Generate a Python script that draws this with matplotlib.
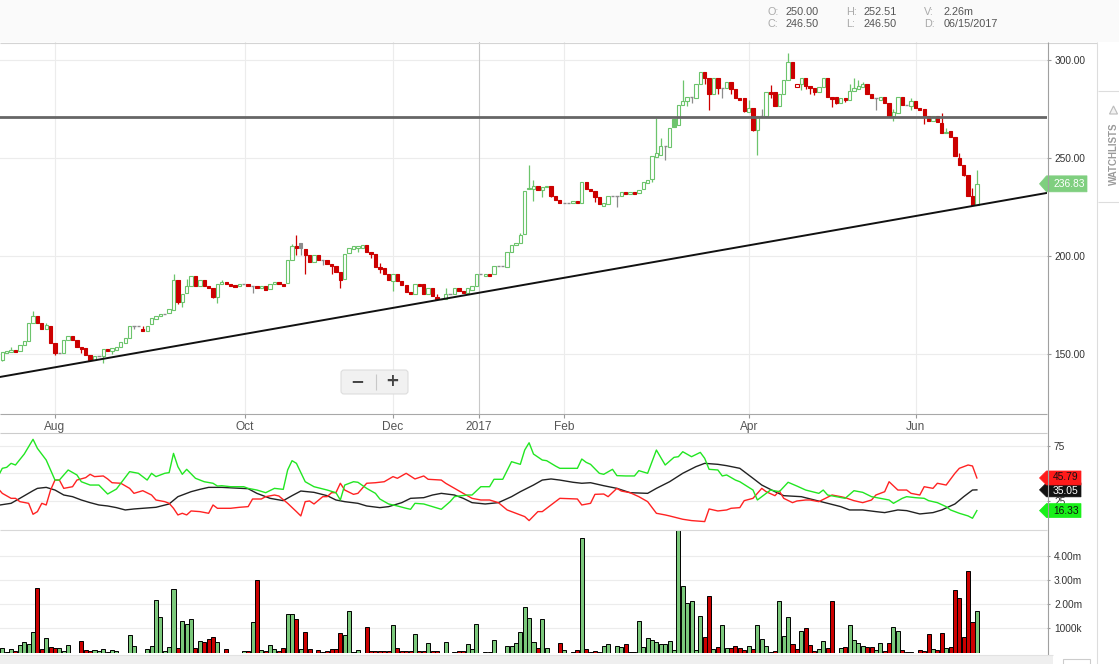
import matplotlib
matplotlib.use("Agg")
import matplotlib.pyplot as plt
from matplotlib.patches import Rectangle, FancyBboxPatch, Polygon

plt.rcParams['font.family'] = ['Liberation Sans', 'DejaVu Sans']

W, H = 1119, 664

# ------------------------------------------------------------------ data
opens = [
    146.8, 150.5, 150.9, 152.0, 151.4, 154.4, 156.8, 165.6, 169.4, 166.0,
    162.9, 164.3, 155.6, 150.7, 150.4, 157.1, 159.2, 157.1, 153.5, 153.0,
    149.5, 146.9, 148.8, 149.0, 152.4, 151.7, 152.2, 153.5, 155.7, 158.0,
    164.1, 164.1, 162.9, 161.9, 165.1, 168.1, 169.5, 170.6, 170.8, 172.4,
    187.8, 176.4, 180.9, 184.5, 189.6, 184.7, 187.8, 184.7, 183.7, 179.0,
    185.6, 186.7, 185.7, 185.2, 184.5, 185.6, 185.6, 184.7, 184.7, 183.9,
    184.7, 183.0, 185.6, 186.7, 185.7, 186.1, 198.0, 205.1, 206.6, 203.6,
    200.5, 196.9, 200.5, 197.9, 197.9, 195.9, 194.9, 192.0, 188.1, 201.4,
    203.7, 203.9, 204.2, 205.6, 202.0, 201.0, 194.2, 193.7, 190.8, 187.4,
    190.8, 187.3, 185.2, 181.8, 180.8, 185.7, 185.6, 180.8, 183.7, 179.1,
    178.1, 178.2, 180.4, 180.6, 183.7, 182.3, 181.3, 182.7, 184.7, 190.8,
    189.6, 191.0, 190.8, 194.9, 194.9, 194.5, 201.9, 205.4, 206.8, 211.1,
    234.3, 234.3, 235.7, 233.9, 235.1, 235.7, 230.5, 228.6, 227.2, 227.2,
    226.9, 228.1, 226.9, 237.6, 234.2, 233.0, 230.1, 225.7, 226.7, 230.5,
    230.5, 230.8, 232.5, 231.5, 232.5, 232.0, 234.0, 237.4, 239.1, 250.7,
    251.3, 256.2, 255.8, 270.0, 266.7, 276.9, 279.3, 281.1, 280.8, 287.9,
    293.9, 290.8, 282.5, 290.8, 285.9, 285.9, 288.6, 285.2, 280.8, 280.6,
    273.6, 275.3, 264.5, 271.3, 271.3, 283.9, 283.9, 276.4, 282.7, 289.6,
    299.0, 286.4, 287.6, 290.8, 286.7, 285.9, 283.8, 286.1, 290.8, 281.1,
    281.1, 278.2, 280.6, 279.7, 284.3, 285.4, 286.2, 287.7, 282.7, 280.8,
    279.7, 281.1, 278.2, 271.4, 273.2, 281.1, 276.9, 276.7, 279.1, 275.5,
    275.0, 271.3, 269.0, 271.3, 268.0, 262.8, 263.8, 260.7, 250.0, 246.5,
    241.3, 230.6, 225.9]

highs = [
    151.2, 151.5, 153.6, 152.0, 154.4, 156.5, 165.6, 171.8, 169.4, 166.0,
    166.0, 164.3, 155.6, 150.7, 157.1, 159.0, 159.2, 157.1, 153.5, 153.0,
    149.5, 148.8, 148.8, 152.4, 152.4, 152.9, 153.5, 155.9, 158.0, 164.1,
    164.1, 164.1, 164.1, 164.1, 168.3, 169.3, 170.6, 170.6, 172.8, 190.8,
    187.8, 180.4, 188.4, 189.6, 189.6, 187.6, 187.8, 184.7, 183.7, 185.6,
    187.8, 186.7, 185.7, 185.2, 185.6, 185.6, 185.6, 184.7, 184.7, 184.7,
    184.7, 185.7, 186.7, 186.7, 185.7, 198.0, 206.0, 210.9, 206.6, 203.6,
    200.5, 200.5, 200.5, 197.9, 197.9, 195.9, 194.9, 192.0, 201.0, 203.9,
    204.9, 205.0, 205.4, 205.6, 202.0, 201.0, 196.6, 193.7, 190.8, 190.8,
    190.8, 187.3, 185.2, 181.8, 185.6, 185.7, 185.6, 183.7, 183.7, 180.4,
    178.1, 183.7, 180.4, 183.5, 183.7, 182.3, 183.5, 184.5, 190.8, 190.8,
    191.0, 191.0, 194.9, 194.9, 194.9, 201.9, 205.4, 206.6, 211.7, 233.2,
    246.6, 238.8, 235.7, 235.1, 235.7, 235.7, 230.5, 228.6, 227.2, 227.2,
    227.9, 228.1, 237.6, 237.6, 234.2, 233.0, 230.1, 227.0, 230.5, 230.5,
    230.5, 232.5, 232.5, 232.5, 232.5, 233.7, 237.6, 238.6, 251.0, 270.6,
    260.1, 256.2, 265.3, 270.0, 276.9, 289.8, 281.1, 281.1, 287.6, 293.9,
    293.9, 290.8, 290.7, 290.8, 285.9, 288.6, 288.6, 285.2, 280.8, 280.6,
    279.6, 275.3, 271.3, 274.9, 283.9, 287.2, 283.9, 282.5, 289.8, 303.6,
    299.0, 287.6, 290.7, 290.8, 286.7, 285.9, 286.2, 290.8, 290.8, 281.1,
    281.1, 280.5, 280.6, 287.6, 290.7, 289.7, 288.6, 287.7, 282.7, 280.8,
    281.1, 281.1, 278.2, 274.9, 281.1, 281.1, 276.9, 280.5, 279.1, 275.5,
    275.0, 271.3, 271.3, 271.3, 273.1, 265.4, 263.8, 260.7, 252.51, 246.5,
    241.3, 234.7, 243.7]

lows = [
    146.5, 150.5, 150.9, 151.2, 151.4, 154.4, 156.8, 165.6, 165.6, 162.9,
    162.9, 155.8, 149.6, 150.7, 150.4, 157.1, 157.2, 153.7, 150.7, 149.6,
    146.9, 146.9, 148.8, 145.2, 151.6, 150.0, 152.2, 153.5, 155.7, 158.0,
    162.9, 164.1, 161.9, 161.9, 165.1, 168.1, 169.5, 170.6, 170.8, 172.4,
    175.7, 173.8, 180.9, 184.5, 184.9, 184.7, 184.8, 183.7, 178.6, 176.0,
    185.6, 185.7, 184.7, 184.2, 184.5, 185.6, 184.7, 181.0, 183.7, 183.9,
    182.7, 183.0, 185.6, 185.7, 184.7, 186.1, 198.0, 200.7, 200.7, 190.6,
    196.9, 196.9, 197.9, 195.6, 195.9, 190.6, 192.0, 183.7, 188.1, 201.4,
    203.7, 202.0, 204.2, 202.0, 199.2, 194.5, 191.3, 191.0, 187.8, 182.3,
    187.3, 185.2, 181.8, 180.6, 180.8, 184.7, 180.8, 180.8, 179.6, 178.1,
    178.1, 178.1, 180.4, 180.6, 182.3, 181.3, 181.3, 182.7, 184.7, 190.8,
    189.6, 189.9, 190.8, 194.9, 194.9, 194.5, 201.9, 205.4, 206.8, 211.1,
    234.3, 228.2, 233.7, 230.3, 235.1, 230.3, 228.7, 227.2, 227.2, 227.2,
    226.9, 227.2, 226.9, 234.3, 233.2, 227.7, 226.7, 225.7, 226.7, 230.5,
    225.2, 230.8, 231.8, 231.5, 231.8, 232.0, 234.0, 237.4, 237.6, 250.7,
    251.3, 249.2, 255.8, 266.0, 266.7, 276.9, 276.7, 277.9, 280.8, 287.9,
    287.9, 274.7, 282.5, 282.6, 280.8, 285.9, 282.6, 280.8, 279.7, 273.6,
    273.6, 263.8, 251.5, 271.3, 271.3, 280.5, 276.4, 276.4, 282.7, 289.6,
    291.0, 286.4, 284.9, 285.4, 282.8, 282.3, 283.8, 286.1, 281.1, 276.0,
    277.7, 278.2, 278.6, 279.7, 284.3, 285.4, 286.2, 282.8, 280.8, 274.7,
    279.7, 278.2, 271.3, 269.1, 273.2, 276.9, 276.9, 274.3, 275.5, 274.7,
    267.2, 269.0, 269.0, 268.2, 262.8, 262.8, 260.7, 251.0, 246.5, 240.8,
    230.6, 225.9, 225.9]

closes = [
    150.9, 151.5, 152.0, 151.2, 154.4, 156.5, 165.6, 169.4, 165.6, 162.9,
    164.8, 155.8, 150.7, 150.7, 157.1, 159.0, 157.2, 153.7, 152.4, 149.6,
    146.9, 148.8, 148.8, 152.4, 151.6, 152.9, 153.5, 155.9, 158.0, 164.1,
    164.1, 164.1, 161.9, 164.1, 168.3, 169.3, 170.6, 170.6, 172.8, 187.8,
    176.7, 180.4, 184.5, 189.6, 184.9, 187.6, 184.8, 183.7, 179.3, 185.6,
    186.7, 185.7, 184.7, 184.2, 185.6, 185.6, 184.7, 184.7, 183.7, 184.7,
    182.7, 185.7, 186.7, 185.7, 184.7, 198.0, 205.1, 204.2, 204.2, 200.5,
    196.9, 200.5, 197.9, 197.9, 195.9, 194.9, 192.0, 187.8, 201.0, 203.9,
    204.9, 205.0, 205.4, 202.0, 201.0, 194.5, 193.4, 191.0, 187.8, 190.8,
    187.3, 185.2, 181.8, 180.6, 185.6, 184.7, 180.8, 183.7, 179.6, 178.1,
    178.1, 180.4, 180.4, 183.5, 182.3, 181.3, 183.5, 184.5, 190.8, 190.8,
    191.0, 189.9, 194.9, 194.9, 194.9, 201.9, 205.4, 206.6, 210.7, 233.2,
    234.6, 235.7, 233.7, 235.1, 235.7, 230.8, 228.7, 227.2, 227.2, 227.2,
    227.9, 227.2, 237.6, 234.3, 233.2, 230.3, 226.7, 227.0, 230.5, 230.5,
    230.5, 232.5, 231.8, 232.5, 231.8, 233.7, 237.6, 238.6, 251.0, 252.4,
    256.2, 256.2, 265.3, 266.0, 276.9, 279.1, 281.1, 281.1, 287.6, 293.9,
    290.8, 282.6, 290.7, 285.9, 285.9, 288.6, 285.4, 280.8, 279.7, 274.1,
    275.3, 264.3, 271.3, 271.3, 283.9, 282.7, 276.4, 282.5, 289.8, 299.0,
    291.0, 287.6, 290.7, 286.7, 285.9, 283.8, 286.2, 290.8, 281.1, 280.1,
    278.2, 280.5, 279.4, 284.2, 285.7, 286.7, 287.7, 282.8, 280.8, 280.8,
    281.1, 278.2, 271.3, 273.4, 281.1, 276.9, 276.9, 279.1, 275.5, 274.7,
    271.3, 269.0, 271.3, 268.2, 262.8, 263.3, 260.7, 251.0, 246.5, 241.3,
    230.6, 225.9, 236.83]

volumes_m = [
    0.18, 0.02, 0.14, 0.05, 0.30, 0.44, 0.35, 0.84, 2.67, 0.14,
    0.60, 0.24, 0.19, 0.19, 0.07, 0.30, 0.00, 0.00, 0.47, 0.10,
    0.07, 0.10, 0.07, 0.14, 0.04, 0.10, 0.06, 0.00, 0.00, 0.74,
    0.26, 0.00, 0.00, 0.14, 0.26, 2.18, 1.47, 0.06, 0.22, 2.64,
    0.18, 1.31, 1.18, 1.39, 0.18, 0.49, 0.43, 0.54, 0.63, 0.43,
    0.00, 0.14, 0.00, 0.00, 0.00, 0.06, 0.06, 1.26, 3.00, 0.10,
    0.07, 0.30, 0.14, 0.07, 0.18, 1.60, 1.58, 1.39, 0.14, 0.85,
    0.14, 0.00, 0.10, 0.04, 0.07, 0.14, 0.14, 0.82, 0.72, 1.72,
    0.04, 0.10, 0.00, 1.05, 0.06, 0.06, 0.06, 0.06, 0.06, 1.14,
    0.18, 0.07, 0.07, 0.06, 0.76, 0.08, 0.06, 0.40, 0.06, 0.06,
    0.00, 0.44, 0.00, 0.04, 0.06, 0.06, 0.35, 0.14, 1.18, 0.00,
    0.02, 0.02, 0.51, 0.00, 0.00, 0.25, 0.25, 0.39, 0.85, 1.89,
    1.43, 0.44, 0.18, 1.38, 0.18, 0.00, 0.00, 0.40, 0.10, 0.00,
    0.04, 0.10, 4.76, 0.14, 0.03, 0.06, 0.02, 0.26, 0.35, 0.00,
    0.25, 0.22, 0.35, 0.02, 0.02, 1.31, 0.22, 0.60, 0.53, 0.43,
    0.35, 0.35, 0.47, 0.10, 5.07, 2.74, 2.06, 2.14, 0.10, 1.51,
    0.63, 2.35, 0.14, 0.22, 1.14, 0.18, 0.18, 0.26, 0.18, 0.10,
    0.26, 0.14, 1.14, 0.56, 0.26, 0.02, 0.06, 2.14, 0.68, 1.47,
    0.35, 0.14, 0.89, 1.01, 0.30, 0.06, 0.14, 0.47, 0.18, 2.14,
    0.00, 0.18, 0.22, 1.14, 0.51, 0.39, 0.26, 0.22, 0.22, 0.10,
    0.39, 0.06, 0.39, 1.04, 0.89, 0.10, 0.02, 0.02, 0.00, 0.10,
    0.06, 0.76, 0.14, 0.10, 0.82, 0.18, 0.22, 2.60, 2.26, 0.64,
    3.39, 1.26, 1.72]

# +DI (green), -DI (red), ADX (black): bar index -> value
pdi_idx = [-1, 0, 1, 2, 3, 5, 7, 8, 10, 12, 13, 15, 17, 18, 20, 22, 24, 26, 27, 29,
           31, 33, 34, 35, 37, 38, 39, 40, 41, 42, 44, 46, 48, 49, 50, 52, 55, 56, 58, 60,
           62, 64, 65, 66, 67, 69, 71, 74, 76, 77, 78, 80, 81, 83, 85, 86, 88, 90, 92, 93,
           94, 96, 98, 100, 102, 103, 104, 106, 107, 109, 111, 112, 114, 116, 118, 119, 120, 121, 123, 124,
           126, 127, 131, 132, 133, 134, 136, 137, 139, 140, 142, 144, 145, 147, 149, 151, 153, 154, 155, 157,
           159, 160, 161, 163, 164, 165, 167, 168, 171, 172, 174, 175, 177, 179, 181, 183, 186, 187, 188, 190,
           192, 194, 196, 198, 200, 202, 203, 205, 206, 208, 210, 211, 213, 215, 216, 218, 220, 221, 222]
pdi_val = [46.9, 54.5, 55.4, 59.0, 57.5, 67.4, 80.7, 72.5, 62.0, 43.9, 43.9, 53.0, 48.5, 42.4, 39.4, 39.4, 31.3, 35.8, 41.0, 51.5,
           50.0, 43.9, 50.0, 47.0, 50.0, 50.6, 68.0, 56.0, 49.1, 53.6, 45.5, 42.4, 41.0, 38.5, 38.8, 37.9, 37.9, 36.4, 34.9, 32.5,
           36.4, 35.5, 53.0, 61.4, 59.0, 42.4, 37.9, 34.9, 32.5, 25.9, 39.4, 42.4, 41.9, 36.4, 31.9, 26.8, 22.3, 20.5, 18.4, 17.5,
           22.9, 22.3, 19.9, 17.5, 24.4, 28.9, 29.5, 30.4, 30.4, 37.9, 37.9, 44.6, 44.6, 60.5, 58.1, 71.0, 77.6, 67.4, 62.0, 61.4,
           56.6, 54.5, 54.5, 62.9, 59.9, 58.1, 50.0, 49.1, 53.6, 47.9, 47.6, 47.6, 52.4, 50.0, 71.0, 57.5, 64.4, 65.0, 69.5, 65.0,
           68.9, 63.5, 53.6, 53.0, 47.6, 48.5, 43.9, 42.4, 34.9, 25.9, 31.9, 34.9, 33.4, 41.9, 38.5, 34.9, 31.9, 34.9, 30.4, 28.9,
           27.4, 34.3, 32.8, 28.9, 27.4, 25.9, 22.9, 27.4, 28.9, 28.0, 27.4, 25.3, 23.5, 19.9, 16.9, 13.9, 11.5, 9.4, 16.33]

mdi_idx = [-1, 0, 2, 3, 4, 6, 7, 8, 9, 10, 11, 12, 13, 14, 16, 17, 19, 20, 21, 23,
           24, 25, 27, 29, 30, 32, 34, 35, 37, 38, 39, 40, 41, 42, 43, 45, 47, 48, 49, 52,
           54, 56, 57, 59, 60, 62, 63, 65, 67, 68, 69, 70, 71, 73, 74, 75, 76, 77, 78, 80,
           81, 83, 85, 87, 89, 90, 92, 94, 96, 97, 100, 101, 103, 105, 107, 109, 111, 113, 115, 118,
           119, 120, 122, 123, 124, 126, 127, 131, 132, 134, 135, 137, 138, 140, 141, 143, 145, 147, 149, 151,
           152, 155, 157, 160, 161, 163, 165, 166, 168, 169, 171, 173, 174, 176, 177, 178, 180, 181, 183, 184,
           186, 189, 191, 192, 194, 196, 198, 199, 201, 202, 204, 206, 207, 209, 210, 212, 213, 215, 217, 218,
           220, 221, 222]
mdi_val = [36.4, 31.9, 27.4, 27.4, 24.4, 22.9, 13.0, 15.4, 22.9, 21.4, 34.9, 43.9, 43.9, 36.4, 37.9, 43.9, 46.1, 49.1, 47.0, 47.6,
           44.9, 41.5, 41.0, 36.4, 31.9, 34.3, 30.4, 25.9, 24.4, 22.9, 18.4, 12.4, 13.9, 12.4, 16.0, 15.4, 13.9, 21.4, 18.4, 18.4,
           19.3, 19.9, 26.8, 26.8, 28.9, 30.4, 29.5, 22.9, 15.4, 11.5, 24.4, 25.0, 22.3, 28.9, 28.9, 32.5, 32.5, 41.0, 34.9, 31.0,
           31.9, 41.0, 41.5, 42.4, 47.0, 45.5, 50.0, 44.9, 47.6, 44.6, 43.9, 41.0, 36.4, 31.9, 27.4, 25.9, 25.9, 23.5, 16.9, 12.4,
           10.9, 7.3, 15.4, 15.4, 18.4, 24.4, 27.4, 26.8, 21.4, 22.9, 31.0, 31.3, 28.9, 36.4, 34.0, 32.5, 28.9, 24.4, 13.9, 12.4,
           11.5, 8.5, 7.3, 6.4, 17.8, 16.0, 16.9, 18.4, 19.0, 25.3, 27.4, 36.4, 33.4, 29.8, 34.0, 27.4, 23.5, 25.0, 25.9, 25.9,
           24.4, 30.4, 28.9, 28.0, 25.3, 23.5, 25.9, 30.4, 33.4, 42.4, 34.9, 34.9, 31.9, 30.4, 37.9, 36.4, 41.0, 39.4, 50.0, 54.5,
           57.5, 56.6, 45.79]

adx_idx = [-1, 2, 4, 7, 8, 10, 12, 14, 16, 18, 20, 22, 24, 26, 28, 30, 32, 35, 38, 40,
           43, 45, 47, 50, 53, 56, 58, 61, 64, 66, 68, 71, 74, 76, 78, 81, 83, 86, 88, 91,
           93, 96, 98, 100, 103, 105, 107, 110, 113, 116, 118, 121, 123, 125, 127, 130, 132, 134, 137, 140,
           143, 147, 149, 152, 155, 158, 160, 163, 165, 168, 171, 173, 176, 178, 182, 185, 188, 191, 193, 196,
           199, 201, 204, 206, 209, 212, 214, 217, 219, 221, 222]
adx_val = [21.1, 22.9, 27.4, 34.3, 36.4, 37.3, 34.9, 30.4, 28.9, 25.9, 23.5, 21.4, 20.5, 19.0, 16.9, 17.8, 18.4, 19.3, 22.3, 28.9,
           33.4, 35.5, 37.3, 37.3, 36.7, 36.1, 31.9, 27.4, 25.3, 29.8, 34.0, 32.8, 29.8, 25.9, 24.4, 22.9, 20.5, 19.0, 19.9, 23.5,
           27.4, 28.0, 30.4, 31.9, 30.4, 27.4, 23.5, 22.3, 23.5, 28.9, 33.4, 39.4, 43.9, 44.9, 43.9, 41.9, 41.0, 41.5, 38.8, 36.4,
           32.5, 31.9, 36.4, 42.4, 50.0, 56.0, 59.0, 58.1, 56.9, 54.5, 45.5, 39.4, 33.4, 29.8, 28.9, 25.9, 22.9, 19.9, 16.9, 16.9,
           15.4, 14.5, 16.9, 16.3, 13.3, 14.5, 16.9, 22.3, 28.9, 34.9, 35.05]

month_labels = ['Aug', 'Oct', 'Dec', '2017', 'Feb', 'Apr', 'Jun']
month_pos = [12.0, 55.3, 89.0, 108.6, 127.9, 170.1, 208.1]

price_ticks = [150, 200, 250, 300]
dmi_grid = [25, 50, 75]
dmi_label_ticks = [25, 75]          # the "50" label is hidden behind the -DI tag
vol_ticks = [1.0, 2.0, 3.0, 4.0]
vol_tick_labels = ['1000k', '2.00m', '3.00m', '4.00m']

resistance_level = 270.9
trend_x = [-0.52, 237.97]
trend_y = [138.3, 232.2]

last_price = 236.83
last_pdi, last_mdi, last_adx = 16.33, 45.79, 35.05

header_rows = [[('O:', '250.00'), ('H:', '252.51'), ('V:', '2.26m')],
               [('C:', '246.50'), ('L:', '246.50'), ('D:', '06/15/2017')]]

# ------------------------------------------------------------------ style
GREEN = '#6cc46c'
RED = '#cc0000'
GRAY = '#8c8c8c'
VGREEN = '#7bc87b'
GRID = '#ececec'
BAR0_PX, STEP_PX = 2.3, 4.39
X_LO = (0 - BAR0_PX) / STEP_PX
X_HI = (1047 - BAR0_PX) / STEP_PX

fig = plt.figure(figsize=(W / 100, H / 100), dpi=100)
fig.patch.set_facecolor('white')


def px_axes(x0, y0, x1, y1, z):
    a = fig.add_axes([x0 / W, 1 - y1 / H, (x1 - x0) / W, (y1 - y0) / H])
    a.set_zorder(z)
    return a


bg = px_axes(0, 0, W, H, 0)
bg.set_xlim(0, W); bg.set_ylim(H, 0); bg.axis('off')
bg.add_patch(Rectangle((0, 0), W, 42, fc='#fafafa', ec='none'))

# ---------------- main price panel
ax = px_axes(0, 42, 1047, 414, 1)
ax.set_xlim(X_LO, X_HI)
ax.set_ylim(119.4, 309.2)
for s in ax.spines.values():
    s.set_visible(False)
for p in price_ticks:
    ax.axhline(p, color=GRID, lw=0.8, zorder=0)
for pos, lab in zip(month_pos, month_labels):
    ax.axvline(pos, color='#c8c8c8' if lab == '2017' else GRID, lw=0.8, zorder=0)

n = len(closes)
BW = 0.76
for i in range(n):
    o, h, l, c = opens[i], highs[i], lows[i], closes[i]
    prev = closes[i - 1] if i > 0 else o
    if abs(c - prev) < 1e-9:
        col = GRAY
    elif c > prev:
        col = GREEN
    else:
        col = RED
    ax.vlines(i, l, h, color=col, lw=0.9, zorder=2)
    if abs(c - o) < 0.05:
        ax.plot([i - BW / 2, i + BW / 2], [c, c], color=col, lw=1.0, zorder=3,
                solid_capstyle='butt')
    else:
        filled = c < o
        ax.add_patch(Rectangle((i - BW / 2, min(o, c)), BW, abs(c - o),
                               fc=col if filled else 'white', ec=col, lw=0.8, zorder=3))

ax.axhline(resistance_level, color='#666666', lw=2.0, zorder=4)
ax.plot(trend_x, trend_y, color='#111111', lw=1.4, zorder=4)

ax.set_xticks(month_pos)
ax.set_xticklabels(month_labels)
ax.tick_params(axis='x', length=3, width=0.8, color='#999999', pad=2,
               labelsize=8.6, labelcolor='#555555')
ax.yaxis.tick_right()
ax.set_yticks(price_ticks)
ax.set_yticklabels([f'{p:.2f}' for p in price_ticks])
ax.tick_params(axis='y', length=3, width=0.8, color='#999999', pad=2.5,
               labelsize=7.3, labelcolor='#333333')

# ---------------- DMI panel
ax2 = px_axes(0, 433, 1047, 530, 1)
ax2.set_xlim(X_LO, X_HI)
ax2.set_ylim(-1.2, 86.4)
for s in ax2.spines.values():
    s.set_visible(False)
for t in dmi_grid:
    ax2.axhline(t, color=GRID, lw=0.8, zorder=0)
ax2.plot(adx_idx, adx_val, color='#222222', lw=1.0, zorder=3)
ax2.plot(mdi_idx, mdi_val, color='#ff2222', lw=1.0, zorder=3)
ax2.plot(pdi_idx, pdi_val, color='#22e622', lw=1.0, zorder=3)
ax2.set_xticks([])
ax2.yaxis.tick_right()
ax2.set_yticks(dmi_label_ticks)
ax2.set_yticklabels([str(t) for t in dmi_label_ticks])
ax2.tick_params(axis='y', length=2.5, width=0.8, color='#999999', pad=2.5,
                labelsize=7.3, labelcolor='#333333')

# ---------------- volume panel
ax3 = px_axes(0, 530, 1047, 652.5, 1)
ax3.set_xlim(X_LO, X_HI)
ax3.set_ylim(0, 5.08)
for s in ax3.spines.values():
    s.set_visible(False)
for t in vol_ticks:
    ax3.axhline(t, color=GRID, lw=0.8, zorder=0)
vcols = []
for i in range(n):
    prev = closes[i - 1] if i > 0 else opens[i]
    vcols.append(RED if closes[i] < prev else VGREEN)
ax3.bar(range(n), volumes_m, width=0.92, color=vcols, edgecolor='black', linewidth=0.7, zorder=2)
ax3.set_xticks([])
ax3.yaxis.tick_right()
ax3.set_yticks(vol_ticks)
ax3.set_yticklabels(vol_tick_labels)
ax3.tick_params(axis='y', length=2.5, width=0.8, color='#999999', pad=2.5,
                labelsize=7.3, labelcolor='#333333')

# ---------------- overlay (frame lines, tags, header, controls)
ov = px_axes(0, 0, W, H, 10)
ov.set_xlim(0, W); ov.set_ylim(H, 0); ov.axis('off')


def hline(y, x0, x1, c, lw=0.8):
    ov.plot([x0, x1], [y, y], color=c, lw=lw, solid_capstyle='butt')


def vline(x, y0, y1, c, lw=0.8):
    ov.plot([x, x], [y0, y1], color=c, lw=lw, solid_capstyle='butt')


hline(42.5, 0, 1097, '#d4d4d4')
hline(414, 0, 1047, '#a8a8a8')
hline(433, 0, 1047, '#cccccc')
hline(530, 0, 1047, '#d8d8d8')
vline(1047.5, 42, 655, '#a0a0a0')
vline(1097, 42, H, '#dddddd')
hline(90.5, 1098, W, '#dddddd')
hline(201.5, 1098, W, '#dddddd')
ov.add_patch(Rectangle((0, 655), 1053, 10, fc='#efefef', ec='none'))
hline(655, 0, 1053, '#e2e2e2')
ov.add_patch(Rectangle((1063, 659), 27, 8, fc='white', ec='#cccccc', lw=0.8))

ov.text(1113.5, 154, 'WATCHLISTS', rotation=90, ha='center', va='center',
        fontsize=7.0, color='#9a9a9a', fontweight='bold')
ov.add_patch(Polygon([(1113.5, 106), (1109.5, 114), (1117.5, 114)], closed=True,
                     fc='#f2f2f2', ec='#bbbbbb', lw=0.8))

# zoom control
ov.add_patch(FancyBboxPatch((341, 370), 67, 24, boxstyle='round,pad=0,rounding_size=3',
                            fc='#f1f1f1', ec='#dddddd', lw=0.8))
vline(376, 374, 390, '#c8c8c8')
ov.text(357, 381.5, '\u2212', ha='center', va='center', fontsize=12, fontweight='bold',
        color='#444444', family=['DejaVu Sans'])
ov.text(392, 381.5, '+', ha='center', va='center', fontsize=12, fontweight='bold',
        color='#444444', family=['DejaVu Sans'])

# header
col_x = [(767, 786), (846, 864), (924, 944)]
for r, row in enumerate(header_rows):
    yy = 12 + r * 12
    for (lab, val), (xl, xv) in zip(row, col_x):
        ov.text(xl, yy, lab, ha='left', va='center', fontsize=7.8, color='#aaaaaa')
        ov.text(xv, yy, val, ha='left', va='center', fontsize=7.8, color='#555555')


def data_to_px_y(a, v):
    return H - a.transData.transform((0, v))[1]


def tag(yc, text, fc, tc, x_r, hh=7.0, dy=0.3):
    ov.add_patch(Polygon([(1039.5, yc), (1046.5, yc - hh), (x_r, yc - hh), (x_r, yc + hh),
                          (1046.5, yc + hh)], closed=True, fc=fc, ec=fc, lw=0.5))
    ov.text(1053, yc + dy, text, ha='left', va='center', fontsize=7.4, color=tc)


tag(data_to_px_y(ax, last_price), f'{last_price:.2f}', '#7fcf7f', 'white', x_r=1087, hh=8)
tag(data_to_px_y(ax2, last_pdi), f'{last_pdi:.2f}', '#19f019', '#111111', x_r=1081)
tag(data_to_px_y(ax2, last_adx), f'{last_adx:.2f}', '#111111', 'white', x_r=1081, dy=1.0)
tag(data_to_px_y(ax2, last_mdi), f'{last_mdi:.2f}', '#ff1a1a', '#111111', x_r=1081, dy=-0.5)

fig.savefig('out.png', dpi=100, facecolor='white')
